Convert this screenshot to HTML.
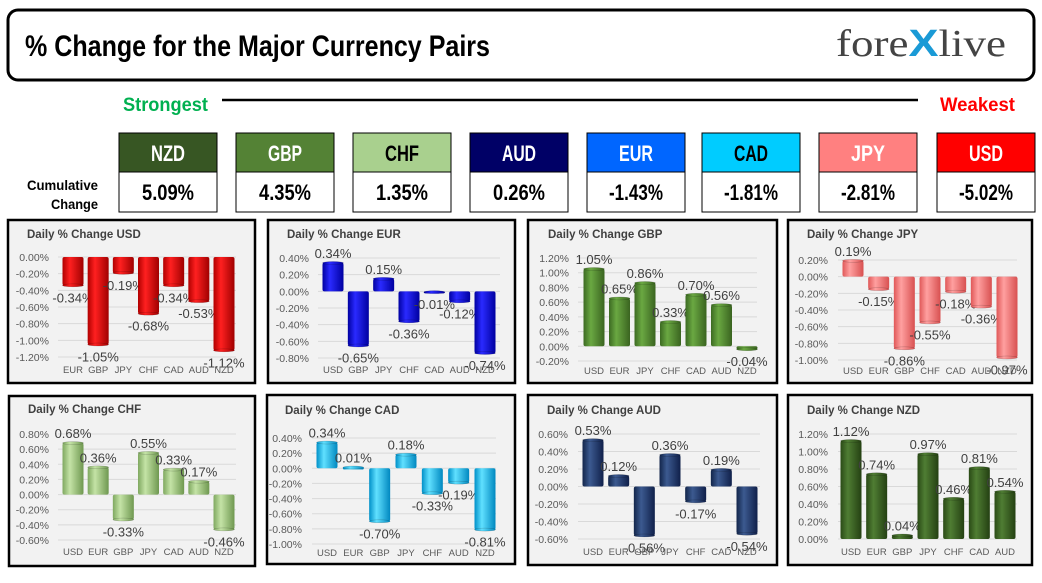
<!DOCTYPE html>
<html><head><meta charset="utf-8">
<style>
html,body{margin:0;padding:0;background:#fff;}
body{width:1042px;height:578px;overflow:hidden;position:relative;font-family:"Liberation Sans",sans-serif;}
.imp{font-family:"Liberation Sans","DejaVu Sans",sans-serif;font-weight:bold;}
</style></head>
<body>
<svg id="main" width="1042" height="578" viewBox="0 0 1042 578" xmlns="http://www.w3.org/2000/svg">
<defs>
<linearGradient id="g-red" x1="0" x2="1"><stop offset="0" stop-color="#b00000"/><stop offset="0.35" stop-color="#ff2020"/><stop offset="1" stop-color="#a00000"/></linearGradient>
<linearGradient id="g-blue" x1="0" x2="1"><stop offset="0" stop-color="#0000a0"/><stop offset="0.35" stop-color="#2a2aff"/><stop offset="1" stop-color="#0000a0"/></linearGradient>
<linearGradient id="g-green" x1="0" x2="1"><stop offset="0" stop-color="#3c6a22"/><stop offset="0.35" stop-color="#6aa842"/><stop offset="1" stop-color="#3a6420"/></linearGradient>
<linearGradient id="g-pink" x1="0" x2="1"><stop offset="0" stop-color="#e05858"/><stop offset="0.35" stop-color="#ffa0a0"/><stop offset="1" stop-color="#d85050"/></linearGradient>
<linearGradient id="g-lgreen" x1="0" x2="1"><stop offset="0" stop-color="#7fa860"/><stop offset="0.35" stop-color="#c4e3a6"/><stop offset="1" stop-color="#6f9850"/></linearGradient>
<linearGradient id="g-cyan" x1="0" x2="1"><stop offset="0" stop-color="#0090c8"/><stop offset="0.35" stop-color="#60e0ff"/><stop offset="1" stop-color="#0088c0"/></linearGradient>
<linearGradient id="g-navy" x1="0" x2="1"><stop offset="0" stop-color="#12254a"/><stop offset="0.35" stop-color="#3c5a90"/><stop offset="1" stop-color="#10204a"/></linearGradient>
<linearGradient id="g-dgreen" x1="0" x2="1"><stop offset="0" stop-color="#2a4a16"/><stop offset="0.35" stop-color="#4f7d33"/><stop offset="1" stop-color="#244012"/></linearGradient>
</defs>
<rect x="8" y="10" width="1026" height="70" rx="10" fill="#fff" stroke="#000" stroke-width="3"/>
<text class="imp" x="25" y="56" font-size="30" fill="#000" textLength="465" lengthAdjust="spacingAndGlyphs">% Change for the Major Currency Pairs</text>
<text x="836" y="56" font-family="Liberation Serif,serif" font-size="38" fill="#444" textLength="170" lengthAdjust="spacingAndGlyphs">fore<tspan fill="#1a9ad6" font-family="Liberation Sans,sans-serif" font-weight="bold">X</tspan>live</text>
<text class="imp" x="123" y="111" font-size="19" fill="#00b050" textLength="85" lengthAdjust="spacingAndGlyphs">Strongest</text>
<line x1="222" y1="100" x2="918" y2="100" stroke="#000" stroke-width="2.5"/>
<text class="imp" x="940" y="111" font-size="19" fill="#ff0000" textLength="75" lengthAdjust="spacingAndGlyphs">Weakest</text>
<text class="imp" x="27" y="190" font-size="14" fill="#000" textLength="71" lengthAdjust="spacingAndGlyphs">Cumulative</text>
<text class="imp" x="51" y="209" font-size="14" fill="#000" textLength="47" lengthAdjust="spacingAndGlyphs">Change</text>
<g id="boxes"></g>
<g id="charts"></g>
</svg>
<script>
const rankCurrencies=["NZD","GBP","CHF","AUD","EUR","CAD","JPY","USD"];
const rankValues=["5.09%","4.35%","1.35%","0.26%","-1.43%","-1.81%","-2.81%","-5.02%"];
const rankColors=["#375623","#548235","#a9d08e","#000066","#0066ff","#00ccff","#ff8080","#ff0000"];
const rankTextColors=["#fff","#fff","#000","#fff","#fff","#000","#fff","#fff"];

const usdCats=["EUR","GBP","JPY","CHF","CAD","AUD","NZD"];
const usdVals=[-0.34,-1.05,-0.19,-0.68,-0.34,-0.53,-1.12];
const usdTicks=[0,-0.2,-0.4,-0.6,-0.8,-1.0,-1.2];
const eurCats=["USD","GBP","JPY","CHF","CAD","AUD","NZD"];
const eurVals=[0.34,-0.65,0.15,-0.36,-0.01,-0.12,-0.74];
const eurTicks=[0.4,0.2,0,-0.2,-0.4,-0.6,-0.8];
const gbpCats=["USD","EUR","JPY","CHF","CAD","AUD","NZD"];
const gbpVals=[1.05,0.65,0.86,0.33,0.70,0.56,-0.04];
const gbpTicks=[1.2,1.0,0.8,0.6,0.4,0.2,0,-0.2];
const jpyCats=["USD","EUR","GBP","CHF","CAD","AUD","NZD"];
const jpyVals=[0.19,-0.15,-0.86,-0.55,-0.18,-0.36,-0.97];
const jpyTicks=[0.2,0,-0.2,-0.4,-0.6,-0.8,-1.0];
const chfCats=["USD","EUR","GBP","JPY","CAD","AUD","NZD"];
const chfVals=[0.68,0.36,-0.33,0.55,0.33,0.17,-0.46];
const chfTicks=[0.8,0.6,0.4,0.2,0,-0.2,-0.4,-0.6];
const cadCats=["USD","EUR","GBP","JPY","CHF","AUD","NZD"];
const cadVals=[0.34,0.01,-0.70,0.18,-0.33,-0.19,-0.81];
const cadTicks=[0.4,0.2,0,-0.2,-0.4,-0.6,-0.8,-1.0];
const audCats=["USD","EUR","GBP","JPY","CHF","CAD","NZD"];
const audVals=[0.53,0.12,-0.56,0.36,-0.17,0.19,-0.54];
const audTicks=[0.6,0.4,0.2,0,-0.2,-0.4,-0.6];
const nzdCats=["USD","EUR","GBP","JPY","CHF","CAD","AUD"];
const nzdVals=[1.12,0.74,0.04,0.97,0.46,0.81,0.54];
const nzdTicks=[1.2,1.0,0.8,0.6,0.4,0.2,0];

const NS="http://www.w3.org/2000/svg";
function mk(tag,attrs,parent){const e=document.createElementNS(NS,tag);for(const k in attrs)e.setAttribute(k,attrs[k]);parent.appendChild(e);return e;}

const boxes=document.getElementById('boxes');
const boxX=[119,236,353,470,587,702,819,937];
rankCurrencies.forEach((c,i)=>{
  const g=mk('g',{},boxes);
  
  
  mk('rect',{x:boxX[i],y:133,width:98,height:39,fill:rankColors[i],stroke:'#000','stroke-width':1},g);
  mk('rect',{x:boxX[i],y:172,width:98,height:40,fill:'#fff',stroke:'#000','stroke-width':1},g);
  const t=mk('text',{x:boxX[i]+49-17,y:161,'font-size':22,fill:rankTextColors[i],class:'imp',textLength:34,lengthAdjust:'spacingAndGlyphs'},g);
  t.textContent=c;
  
  
  const w=rankValues[i].length>5?54:52;
  const tv=mk('text',{x:boxX[i]+49-w/2,y:200,'font-size':22,fill:'#000',class:'imp',textLength:w,lengthAdjust:'spacingAndGlyphs'},g);
  tv.textContent=rankValues[i];
  
  
});

const panels=[
 {id:'usd',title:'Daily % Change USD',cats:usdCats,vals:usdVals,ticks:usdTicks,box:[8,220,247,163],labR:49,gx:[58,236],ty:[257,357],bx0:73,bx1:224,cy:373,tx:27,tyT:238,fill:'url(#g-red)'},
 {id:'eur',title:'Daily % Change EUR',cats:eurCats,vals:eurVals,ticks:eurTicks,box:[268,220,247,163],labR:309,gx:[318,500],ty:[258,358],bx0:333,bx1:485,cy:373,tx:287,tyT:238,fill:'url(#g-blue)'},
 {id:'gbp',title:'Daily % Change GBP',cats:gbpCats,vals:gbpVals,ticks:gbpTicks,box:[528,220,249,163],labR:569,gx:[578,757],ty:[258,361],bx0:594,bx1:747,cy:374,tx:548,tyT:238,fill:'url(#g-green)'},
 {id:'jpy',title:'Daily % Change JPY',cats:jpyCats,vals:jpyVals,ticks:jpyTicks,box:[788,220,244,163],labR:828,gx:[838,1017],ty:[260,360],bx0:853,bx1:1007,cy:374,tx:807,tyT:238,fill:'url(#g-pink)'},
 {id:'chf',title:'Daily % Change CHF',cats:chfCats,vals:chfVals,ticks:chfTicks,box:[9,396,246,170],labR:49,gx:[58,236],ty:[434,540],bx0:73,bx1:224,cy:555,tx:28,tyT:413,fill:'url(#g-lgreen)'},
 {id:'cad',title:'Daily % Change CAD',cats:cadCats,vals:cadVals,ticks:cadTicks,box:[267,395,248,169],labR:302,gx:[312,496],ty:[438,544],bx0:327,bx1:485,cy:556,tx:285,tyT:414,fill:'url(#g-cyan)'},
 {id:'aud',title:'Daily % Change AUD',cats:audCats,vals:audVals,ticks:audTicks,box:[528,395,249,170],labR:568,gx:[578,760],ty:[434,539],bx0:593,bx1:747,cy:555,tx:547,tyT:414,fill:'url(#g-navy)'},
 {id:'nzd',title:'Daily % Change NZD',cats:nzdCats,vals:nzdVals,ticks:nzdTicks,box:[788,395,244,170],labR:828,gx:[838,1017],ty:[434,539],bx0:851,bx1:1005,cy:555,tx:807,tyT:414,fill:'url(#g-dgreen)'}
];

const charts=document.getElementById('charts');
panels.forEach(p=>{
  const g=mk('g',{},charts);
  
  
  const b=p.box;
  const bg=mk('rect',{x:b[0],y:b[1],width:b[2],height:b[3],fill:'#f2f2f2',stroke:'#000','stroke-width':2.5},g);
  
  
  const t=mk('text',{x:p.tx,y:p.tyT,'font-size':11.5,'font-weight':'bold',fill:'#404040'},g);
  t.textContent=p.title;
  
  
  const tmax=Math.max(...p.ticks), tmin=Math.min(...p.ticks);
  const yS=v=>p.ty[0]+(tmax-v)/(tmax-tmin)*(p.ty[1]-p.ty[0]);
  p.ticks.forEach(tv=>{
    const y=yS(tv);
    const ln=mk('line',{x1:p.gx[0],x2:p.gx[1],y1:y,y2:y,stroke:'#d9d9d9','stroke-width':1},g);
    
    
    const tl=mk('text',{x:p.labR,y:y+4,'text-anchor':'end','font-size':10.5,fill:'#595959'},g);
    tl.textContent=tv.toFixed(2)+'%';
    
    
  });
  const n=p.cats.length, step=(p.bx1-p.bx0)/(n-1), bw=21;
  const y0=yS(0);
  p.vals.forEach((v,i)=>{
    const cx=p.bx0+i*step, yv=yS(v);
    const top=Math.min(y0,yv), h=Math.max(Math.abs(yv-y0),2);
    const r=mk('rect',{x:cx-bw/2,y:top,width:bw,height:h,rx:2,fill:p.fill},g);
    
    
    const e=mk('ellipse',{cx:cx,cy:yv,rx:bw/2,ry:1.5,fill:p.fill,stroke:'rgba(0,0,0,0.25)','stroke-width':0.5},g);
    
    
    const lbl=mk('text',{x:cx,y:v>=0?yv-5:yv+17,'text-anchor':'middle','font-size':13,fill:'#404040'},g);
    lbl.textContent=v.toFixed(2)+'%';
    
    
    const cl=mk('text',{x:cx,y:p.cy,'text-anchor':'middle','font-size':9.5,fill:'#595959'},g);
    cl.textContent=p.cats[i];
    
    
  });
});
</script>
</body></html>
